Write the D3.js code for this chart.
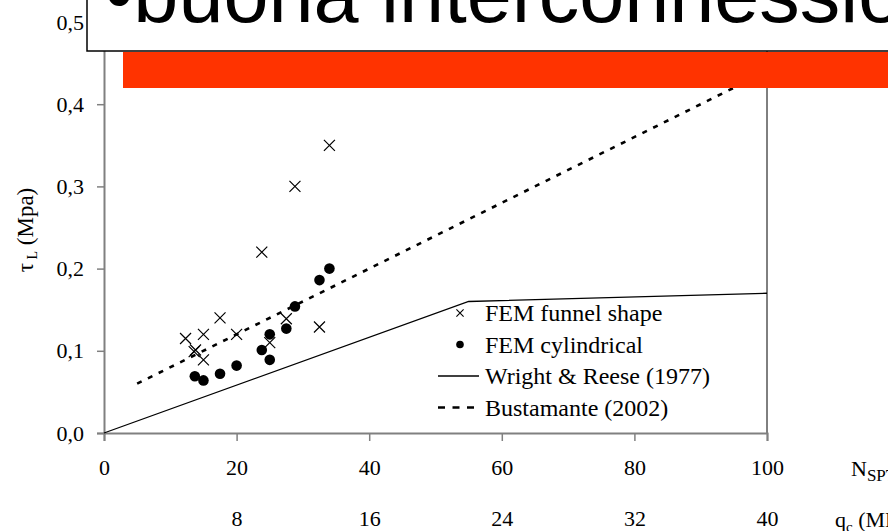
<!DOCTYPE html>
<html>
<head>
<meta charset="utf-8">
<script src="https://cdn.jsdelivr.net/npm/d3@7/dist/d3.min.js"></script>
<style>
  html, body { margin: 0; padding: 0; background: #fff; overflow: hidden; }
  svg { display: block; }
</style>
</head>
<body>
<svg id="chart" width="888" height="531"></svg>
<script>
// Unit shaft friction vs. SPT blow count (and cone resistance)
const funnelN   = [34.0, 28.8, 23.8, 17.5, 12.3, 15.0, 20.0, 13.6, 13.8, 15.0, 25.0, 27.5, 32.5];
const funnelTau = [0.350, 0.300, 0.220, 0.140, 0.115, 0.120, 0.120, 0.099, 0.101, 0.089, 0.110, 0.139, 0.129];

const cylN   = [34.0, 32.5, 28.8, 27.5, 25.0, 23.8, 25.0, 20.0, 17.5, 13.7, 15.0];
const cylTau = [0.200, 0.186, 0.154, 0.127, 0.120, 0.101, 0.089, 0.082, 0.072, 0.069, 0.064];

const wrightN   = [0, 55, 100];
const wrightTau = [0, 0.16, 0.17];

const bustN   = [5, 100];
const bustTau = [0.06, 0.44];

const nTicks   = [0, 20, 40, 60, 80, 100];
const qcTicks  = [8, 16, 24, 32, 40];
const tauTicks = [0, 0.1, 0.2, 0.3, 0.4, 0.5];

const legendLabels = ["FEM funnel shape", "FEM cylindrical", "Wright & Reese (1977)", "Bustamante (2002)"];
const titleText = "\u2022buona interconnessione";

const serif = "'Liberation Serif', 'Times New Roman', serif";
const sans = "'Liberation Sans', Arial, sans-serif";
const axisGrey = "#808080";

const svg = d3.select("#chart");

const x = d3.scaleLinear().domain([0, 100]).range([104, 767]);
const xq = d3.scaleLinear().domain([0, 40]).range([104, 767]);
const y = d3.scaleLinear().domain([0, 0.5]).range([433, 22]);

const comma = v => d3.format(".1f")(v).replace(".", ",");

// right frame edge
svg.append("line")
  .attr("x1", x(100)).attr("x2", x(100))
  .attr("y1", y(0.5)).attr("y2", y(0))
  .attr("stroke", "#000").attr("stroke-width", 1);

// y axis
const gy = svg.append("g").attr("transform", `translate(${x(0)},0)`)
  .call(d3.axisLeft(y).tickValues(tauTicks).tickFormat(comma).tickSize(7).tickPadding(13));
gy.select(".domain").attr("stroke", axisGrey).attr("stroke-width", 2);
gy.selectAll(".tick line").attr("stroke", axisGrey).attr("stroke-width", 1.5);
gy.selectAll(".tick text").attr("font-family", serif).attr("font-size", 22).attr("fill", "#000");

// x axis (N_SPT)
const gx = svg.append("g").attr("transform", `translate(0,${y(0)})`)
  .call(d3.axisBottom(x).tickValues(nTicks).tickFormat(d3.format("d")).tickSize(8).tickPadding(18));
gx.select(".domain").attr("stroke", axisGrey).attr("stroke-width", 2);
gx.selectAll(".tick line").attr("stroke", axisGrey).attr("stroke-width", 1.5);
gx.selectAll(".tick text").attr("font-family", serif).attr("font-size", 22).attr("fill", "#000");

// second scale row (q_c)
const gq = svg.append("g").attr("transform", `translate(0,${y(0)})`)
  .call(d3.axisBottom(xq).tickValues(qcTicks).tickFormat(d3.format("d")).tickSize(0).tickPadding(77));
gq.select(".domain").remove();
gq.selectAll(".tick text").attr("font-family", serif).attr("font-size", 22).attr("fill", "#000");

// axis titles (running off the right edge)
const nLab = svg.append("text").attr("x", 851).attr("y", 476)
  .attr("font-family", serif).attr("font-size", 22);
nLab.append("tspan").text("N");
nLab.append("tspan").attr("font-size", 17).attr("dy", 5).text("SPT");

const qLab = svg.append("text").attr("x", 835).attr("y", 527)
  .attr("font-family", serif).attr("font-size", 22);
qLab.append("tspan").text("q");
qLab.append("tspan").attr("font-size", 15).attr("dy", 5).text("c");
qLab.append("tspan").attr("dy", -5).text(" (MPa)");

const tLab = svg.append("text")
  .attr("transform", "translate(33,230) rotate(-90)")
  .attr("text-anchor", "middle")
  .attr("font-family", serif).attr("font-size", 23);
tLab.append("tspan").text("\u03c4");
tLab.append("tspan").attr("font-size", 14).attr("dy", 4).text(" L");
tLab.append("tspan").attr("dy", -4).text(" (Mpa)");

// lines
const line = d3.line().x(d => x(d[0])).y(d => y(d[1]));
svg.append("path")
  .datum(d3.zip(wrightN, wrightTau))
  .attr("d", line).attr("fill", "none")
  .attr("stroke", "#000").attr("stroke-width", 1.3);
svg.append("path")
  .datum(d3.zip(bustN, bustTau))
  .attr("d", line).attr("fill", "none")
  .attr("stroke", "#000").attr("stroke-width", 2.6)
  .attr("stroke-dasharray", "5,7");

// markers
const crossPath = s => `M${-s},${-s}L${s},${s}M${-s},${s}L${s},${-s}`;
svg.append("g").selectAll("path")
  .data(d3.zip(funnelN, funnelTau))
  .join("path")
  .attr("transform", d => `translate(${x(d[0])},${y(d[1])})`)
  .attr("d", crossPath(5.5))
  .attr("fill", "none").attr("stroke", "#000").attr("stroke-width", 1.2);

svg.append("g").selectAll("circle")
  .data(d3.zip(cylN, cylTau))
  .join("circle")
  .attr("cx", d => x(d[0])).attr("cy", d => y(d[1]))
  .attr("r", 5.3).attr("fill", "#000");

// legend
const lg = svg.append("g").attr("transform", "translate(438,313)");
const rowH = 31.5;
lg.append("path").attr("transform", "translate(22,0)").attr("d", crossPath(3.6))
  .attr("fill", "none").attr("stroke", "#000").attr("stroke-width", 1.1);
lg.append("circle").attr("cx", 22).attr("cy", rowH).attr("r", 3.8).attr("fill", "#000");
lg.append("line").attr("x1", 0).attr("x2", 41).attr("y1", rowH * 2).attr("y2", rowH * 2)
  .attr("stroke", "#000").attr("stroke-width", 1.3);
lg.append("line").attr("x1", 0).attr("x2", 41).attr("y1", rowH * 3).attr("y2", rowH * 3)
  .attr("stroke", "#000").attr("stroke-width", 2.6).attr("stroke-dasharray", "7,7.5");
lg.selectAll("text").data(legendLabels).join("text")
  .attr("x", 47).attr("y", (d, i) => i * rowH + 8)
  .attr("font-family", serif).attr("font-size", 24).text(d => d);

// title banner
svg.append("rect").attr("x", 87).attr("y", -10).attr("width", 830).attr("height", 61)
  .attr("fill", "#fff").attr("stroke", "#000").attr("stroke-width", 1.5);
svg.append("rect").attr("x", 123).attr("y", 52).attr("width", 800).attr("height", 36)
  .attr("fill", "#FF3300");
svg.append("text").attr("x", 105).attr("y", 22)
  .attr("font-family", sans).attr("font-size", 81).attr("fill", "#000")
  .text(titleText);
</script>
</body>
</html>
